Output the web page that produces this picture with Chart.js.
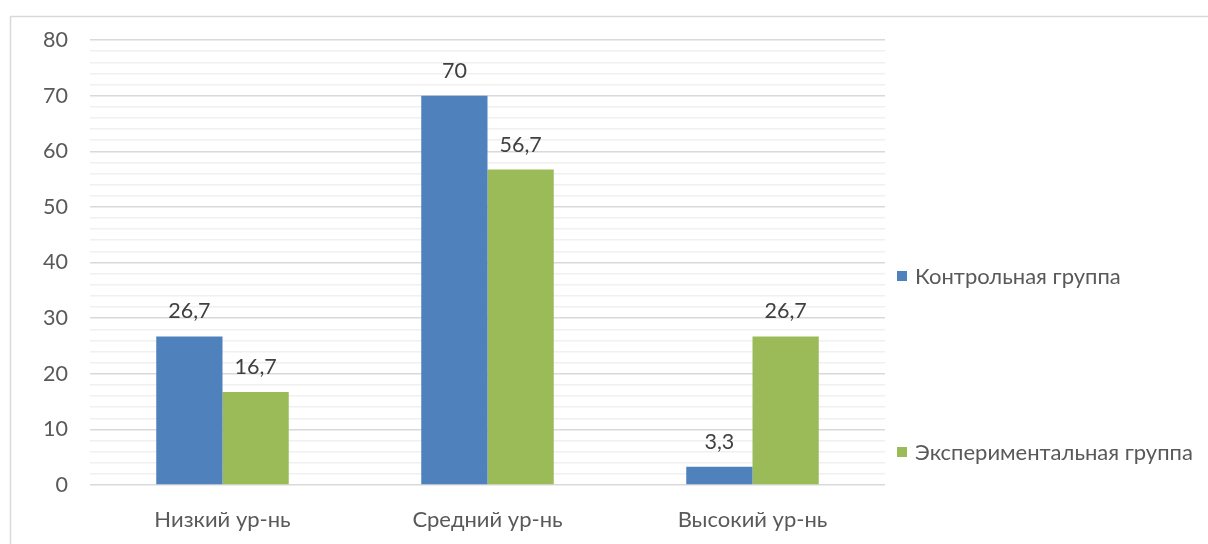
<!DOCTYPE html>
<html>
<head>
<meta charset="utf-8">
<script src="https://cdn.jsdelivr.net/npm/chart.js@4"></script>
<style>
    html, body { margin: 0; padding: 0; background: #fff; }
    #wrap { width: 1208px; height: 544px; position: relative; }
</style>
</head>
<body>
<div id="wrap"><canvas id="graph-levels"></canvas></div>
<script>
const categories = ["Низкий ур-нь", "Средний ур-нь", "Высокий ур-нь"];
const controlGroup = [26.7, 70, 3.3];
const experimentGroup = [16.7, 56.7, 26.7];
const seriesNames = ["Контрольная группа", "Экспериментальная группа"];
const yTicks = { min: 0, max: 80, step: 2, labelEvery: 10 };

const FONT = "Lato, 'Open Sans', sans-serif";

// frame around the chart like in the office export
const framePlugin = {
    id: "frame",
    beforeDraw(chart) {
        const ctx = chart.ctx;
        ctx.save();
        ctx.strokeStyle = "#d9d9d9";
        ctx.lineWidth = 1.5;
        ctx.strokeRect(10.5, 16.5, chart.width + 20, chart.height + 20);
        ctx.restore();
    }
};

// values above the bars, decimal comma
const valueLabels = {
    id: "valueLabels",
    afterDatasetsDraw(chart) {
        const ctx = chart.ctx;
        ctx.save();
        ctx.font = "21.5px " + FONT;
        ctx.fillStyle = "#404040";
        ctx.textAlign = "center";
        ctx.textBaseline = "middle";
        chart.data.datasets.forEach((ds, i) => {
            chart.getDatasetMeta(i).data.forEach((bar, j) => {
                const txt = String(ds.data[j]).replace(".", ",");
                ctx.fillText(txt, bar.x, bar.y - 25);
            });
        });
        ctx.restore();
    }
};

// legend on the right, items spread like the original
const sideLegend = {
    id: "sideLegend",
    afterDraw(chart) {
        const ctx = chart.ctx;
        const x = chart.chartArea.right + 12;
        const rows = [276, 452];
        ctx.save();
        ctx.font = "22px " + FONT;
        ctx.textBaseline = "middle";
        chart.data.datasets.forEach((ds, i) => {
            ctx.fillStyle = ds.backgroundColor;
            ctx.fillRect(x, rows[i] - 5, 10, 10);
            ctx.fillStyle = "#595959";
            ctx.fillText(ds.label, x + 18, rows[i] + 1);
        });
        ctx.restore();
    }
};

const chart = new Chart(document.getElementById("graph-levels"), {
    type: "bar",
    data: {
        labels: categories,
        datasets: [
            { label: seriesNames[0], data: controlGroup, backgroundColor: "#4f81bd" },
            { label: seriesNames[1], data: experimentGroup, backgroundColor: "#9bbb59" }
        ]
    },
    options: {
        responsive: true,
        maintainAspectRatio: false,
        animation: false,
        layout: { padding: { top: 40, right: 323, bottom: 0, left: 0 } },
        plugins: {
            legend: { display: false },
            tooltip: { enabled: false }
        },
        datasets: {
            bar: { categoryPercentage: 0.5, barPercentage: 1 }
        },
        scales: {
            x: {
                grid: { display: false },
                border: { display: false },
                ticks: { color: "#595959", font: { size: 22, family: FONT }, padding: 14 },
                afterFit(scale) { scale.height = 59; }
            },
            y: {
                min: yTicks.min,
                max: yTicks.max,
                border: { display: false },
                grid: {
                    drawTicks: false,
                    color: ctx => ctx.tick && ctx.tick.value % yTicks.labelEvery === 0 ? "#d9d9d9" : "#f0f0f0",
                    lineWidth: 1.5
                },
                ticks: {
                    stepSize: yTicks.step,
                    autoSkip: false,
                    padding: 22,
                    color: "#595959",
                    font: { size: 21.5, family: FONT },
                    callback: v => v % yTicks.labelEvery === 0 ? v : ""
                },
                afterFit(scale) { scale.width = 90; }
            }
        }
    },
    plugins: [framePlugin, valueLabels, sideLegend]
});
</script>
</body>
</html>
